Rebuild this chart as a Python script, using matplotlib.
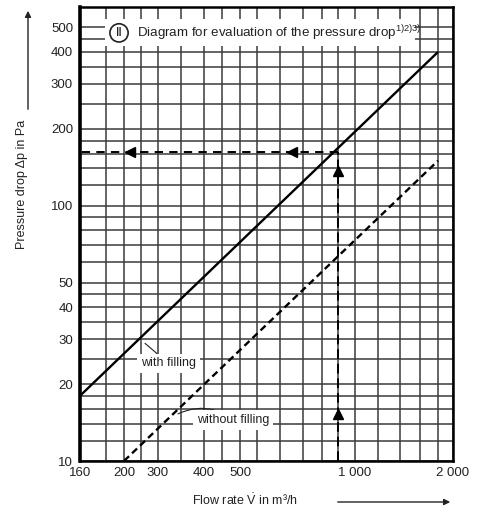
import numpy as np
import matplotlib
matplotlib.use("Agg")
import matplotlib.pyplot as plt
from matplotlib.patches import Rectangle, FancyArrowPatch

plt.rcParams['font.family'] = ['Liberation Sans', 'DejaVu Sans']
plt.rcParams['mathtext.fontset'] = 'custom'
plt.rcParams['mathtext.rm'] = 'Liberation Sans'
plt.rcParams['mathtext.it'] = 'Liberation Sans'
plt.rcParams['lines.scale_dashes'] = False

# Kennlinien (Volumenstrom m3/h -> Druckverlust Pa)
flow_with = [160, 1800]
dp_with = [18, 400]
flow_without = [200, 1800]
dp_without = [10, 150]

# Ablesebeispiel
read_flow = 900
read_dp = 163
arrow_h_flow = [215, 650]
arrow_v_dp = [15.3, 137]

# Achsen
x_labels_val = [160, 200, 300, 400, 500, 1000, 2000]
x_labels_txt = ['160', '200', '300', '400', '500', '1 000', '2 000']
x_grid = [180, 250, 350, 450, 550, 600, 700, 800, 900, 1200, 1400, 1600, 1800]
y_labels_val = [10, 20, 30, 40, 50, 100, 200, 300, 400, 500]
y_grid = [12, 14, 16, 18, 25, 35, 45, 60, 70, 80, 90, 120, 140, 160, 180, 250, 350, 450]

# nicht ganz logarithmische x-Teilung des Originals (Wert -> relative Lage)
scale_val = [160, 180, 200, 250, 300, 350, 400, 450, 500, 550, 600, 700, 800,
             900, 1000, 1200, 1400, 1600, 1800, 2000]
scale_pos = [80, 106, 124, 141, 158, 181, 204, 222, 240, 257, 280, 303, 322,
             338, 355, 378, 400, 420, 438, 453]
log_val = np.log10(scale_val)


def fwd(v):
    v = np.clip(np.asarray(v, dtype=float), 1e-9, None)
    return np.interp(np.log10(v), log_val, scale_pos)


def inv(p):
    return 10 ** np.interp(p, scale_pos, log_val)


fig = plt.figure(figsize=(4.81, 5.15), dpi=100)
ax = fig.add_axes([80 / 481, 1 - 461 / 515, 373 / 481, 454 / 515])

ax.set_xscale('function', functions=(fwd, inv))
ax.set_yscale('log')
ax.set_xlim(160, 2000)
ax.set_ylim(10, 600)

ax.set_xticks(x_labels_val)
ax.set_xticklabels(x_labels_txt)
ax.set_xticks(x_grid, minor=True)
ax.set_yticks(y_labels_val)
ax.set_yticklabels([str(v) for v in y_labels_val])
ax.set_yticks(y_grid, minor=True)
ax.yaxis.set_minor_formatter(matplotlib.ticker.NullFormatter())
ax.xaxis.set_minor_formatter(matplotlib.ticker.NullFormatter())
ax.tick_params(which='both', length=0, labelsize=9.5, colors='#222222')
ax.tick_params(axis='x', pad=4)
ax.tick_params(axis='y', pad=5)
ax.grid(True, which='both', color='#3a3a3a', lw=1.1)
ax.set_axisbelow(True)

for side in ['top', 'right', 'bottom']:
    ax.spines[side].set_linewidth(1.8)
ax.spines['left'].set_linewidth(2.6)

# weisse Flaeche unter dem Titel
ax.add_patch(Rectangle((0.067, 0.914), 0.831, 0.06, transform=ax.transAxes,
                       facecolor='white', edgecolor='none', zorder=2))
ax.text(0.1046, 0.943, 'II', transform=ax.transAxes, ha='center', va='center',
        fontsize=9, zorder=3,
        bbox=dict(boxstyle='circle,pad=0.25', facecolor='white', edgecolor='#222222', lw=1.2))
ax.text(0.153, 0.943, r'Diagram for evaluation of the pressure drop$^{1)2)3)}$',
        transform=ax.transAxes, ha='left', va='center', fontsize=9.6, color='#222222', zorder=3)

# Kennlinien
ax.plot(flow_with, dp_with, color='black', lw=1.7, solid_capstyle='butt', zorder=4)
ax.plot(flow_without, dp_without, color='black', lw=1.7, linestyle=(0, (5, 3)), zorder=4)

# Ablesebeispiel
ax.plot([read_flow, 160], [read_dp, read_dp], color='black', lw=1.4,
        linestyle=(0, (6, 4.5)), zorder=4)
ax.plot([read_flow, read_flow], [10, read_dp], color='black', lw=1.4,
        linestyle=(0, (7, 3.5)), zorder=4)
ax.plot(arrow_h_flow, [read_dp] * 2, linestyle='none', marker='<', ms=7, color='black', zorder=5)
ax.plot([read_flow] * 2, arrow_v_dp, linestyle='none', marker='^', ms=7, color='black', zorder=5)

# Beschriftungen der Kurven
ax.annotate('with filling', xy=(261, 28.9), xytext=(322, 24.1), ha='center', va='center',
            fontsize=9, color='#222222', zorder=6,
            bbox=dict(boxstyle='square,pad=0.3', facecolor='white', edgecolor='none'),
            arrowprops=dict(arrowstyle='-', color='#222222', lw=0.8, shrinkA=0, shrinkB=0))
ax.annotate('without filling', xy=(343, 15.3), xytext=(480, 14.5), ha='center', va='center',
            fontsize=9, color='#222222', zorder=6,
            bbox=dict(boxstyle='square,pad=0.3', facecolor='white', edgecolor='none'),
            arrowprops=dict(arrowstyle='-', color='#222222', lw=0.8, shrinkA=0, shrinkB=0,
                            connectionstyle='arc3,rad=0.3'))

# Achsentitel mit Pfeilen
fig.text(22 / 481, 1 - 184 / 515, 'Pressure drop Δp in Pa', rotation=90,
         ha='center', va='center', fontsize=9, color='#222222')
fig.add_artist(FancyArrowPatch(
    (28 / 481, 1 - 112 / 515), (28 / 481, 1 - 8 / 515), transform=fig.transFigure,
    arrowstyle='-|>', mutation_scale=9, color='#222222', lw=1.0))
fig.text(245 / 481, 1 - 500 / 515, r'Flow rate $\dot{V}$ in m³/h',
         ha='center', va='center', fontsize=9, color='#222222')
fig.add_artist(FancyArrowPatch(
    (335 / 481, 1 - 502 / 515), (453 / 481, 1 - 502 / 515), transform=fig.transFigure,
    arrowstyle='-|>', mutation_scale=9, color='#222222', lw=1.0))

fig.savefig('out.png', dpi=100)
